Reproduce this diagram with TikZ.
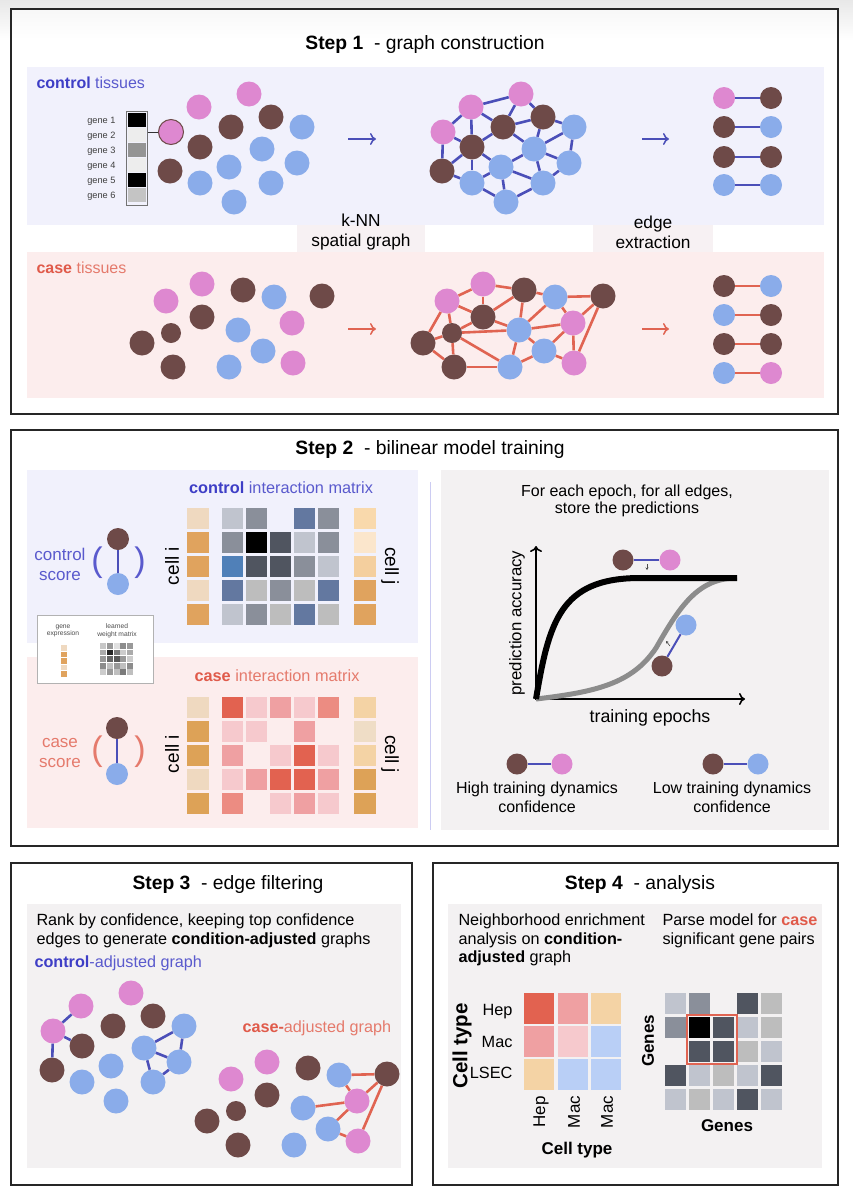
\documentclass[tikz,border=0pt]{standalone}
\usepackage{fontspec}
\setmainfont{Liberation Sans}
\usetikzlibrary{arrows.meta}
\definecolor{cbrown}{HTML}{6E4A48}
\definecolor{cpink}{HTML}{DE88D0}
\definecolor{cblue}{HTML}{8AACEA}
\definecolor{eblue}{HTML}{4B4FB8}
\definecolor{ered}{HTML}{E06452}
\definecolor{tblue}{HTML}{3E3EC6}
\definecolor{tblue2}{HTML}{5A5ACD}
\definecolor{tred}{HTML}{E05A4A}
\definecolor{tred2}{HTML}{E57A6C}
\definecolor{plav}{HTML}{F1F1FC}
\definecolor{ppink}{HTML}{FCEDED}
\definecolor{pgray}{HTML}{F3F1F2}
\definecolor{plabel}{HTML}{F7F1F3}
% matrix greys
\definecolor{g1}{HTML}{C0C4CE}
\definecolor{g2}{HTML}{8A8F9A}
\definecolor{g3}{HTML}{505560}
\definecolor{g4}{HTML}{6378A0}
\definecolor{g5}{HTML}{5080B8}
\definecolor{g6}{HTML}{BDBDBD}
% reds
\definecolor{r1}{HTML}{E26250}
\definecolor{r2}{HTML}{F6C9CD}
\definecolor{r3}{HTML}{EFA0A2}
\definecolor{r4}{HTML}{EC8C82}
% oranges
\definecolor{t1}{HTML}{EFD9C0}
\definecolor{o1}{HTML}{E0A35E}
\definecolor{o2}{HTML}{DDA257}
\definecolor{y1}{HTML}{F9D9AC}
\definecolor{y2}{HTML}{FBE6CC}
\definecolor{y3}{HTML}{F4CF9E}
\definecolor{y4}{HTML}{EFDDC6}
\definecolor{hb}{HTML}{B9CFF6}
\definecolor{hy}{HTML}{F4D3A5}

\newcommand{\ctrllayout}{%
  \node[cp] (a1) at (171,132) {};
  \node[cp] (a2) at (199,107) {};
  \node[cp] (a3) at (249,94) {};
  \node[cb] (a4) at (231,127) {};
  \node[cb] (a5) at (271,117) {};
  \node[cl] (a6) at (302,127) {};
  \node[cb] (a7) at (200,147) {};
  \node[cl] (a8) at (262,149) {};
  \node[cl] (a9) at (229,167) {};
  \node[cl] (a10) at (297,163) {};
  \node[cb] (a11) at (170,171) {};
  \node[cl] (a12) at (200,183) {};
  \node[cl] (a13) at (271,183) {};
  \node[cl] (a14) at (234,202) {};
}
\newcommand{\caselayout}{%
  \node[cp] (b1) at (166,301) {};
  \node[cp] (b2) at (202,284) {};
  \node[cb] (b3) at (243,290) {};
  \node[cl] (b4) at (274,297) {};
  \node[cb] (b5) at (322,296) {};
  \node[cb] (b6) at (202,317) {};
  \node[cp] (b7) at (292,323) {};
  \node[cbs] (b8) at (171,333) {};
  \node[cb] (b9) at (142,343) {};
  \node[cl] (b10) at (238,330) {};
  \node[cl] (b11) at (263,351) {};
  \node[cb] (b12) at (173,367) {};
  \node[cl] (b13) at (229,367) {};
  \node[cp] (b14) at (293,363) {};
}

\begin{document}
\begin{tikzpicture}[x=1pt,y=-1pt,
  base/.style={circle, inner sep=0pt, minimum size=25pt},
  cb/.style={base, fill=cbrown}, cp/.style={base, fill=cpink}, cl/.style={base, fill=cblue},
  cbs/.style={base, fill=cbrown, minimum size=20pt},
  pb/.style={cb, minimum size=22pt}, pp/.style={cp, minimum size=22pt}, pl/.style={cl, minimum size=22pt},
  eb/.style={draw=eblue, line width=2.6pt}, er/.style={draw=ered, line width=2.6pt},
  frame/.style={draw=black!85, line width=1.4pt},
  arr/.style={line width=1.5pt, -{To[length=6pt,width=12pt]}},
  ttl/.style={font=\fontsize{19.3}{22}\selectfont},
  lbl/.style={font=\fontsize{17.3}{20}\selectfont, align=center},
  txt/.style={font=\fontsize{16.2}{18.5}\selectfont},
  cell/.style={font=\fontsize{17}{20}\selectfont},
]
\useasboundingbox (0,0) rectangle (853,1200);
\fill[white] (0,0) rectangle (853,1200);
\shade[top color=black!9, bottom color=white] (0,0) rectangle (853,40);

%================ STEP 1 =================
\fill[white] (11,9) rectangle (838,414);
\shade[top color=black!3, bottom color=white] (11,9) rectangle (838,40);
\draw[frame] (11,9) rectangle (838,414);
\node[ttl] (t1) at (425,45) {\textbf{Step 1}\ \ - graph construction};
\fill[plav] (27,67) rectangle (824,225);
\fill[ppink] (27,252) rectangle (824,398);
\fill[plabel] (297,225) rectangle (425,252);
\fill[plabel] (593,225) rectangle (713,252);
\node[lbl] (knn) at (361,232) {k-NN\\spatial graph};
\node[lbl] (edx) at (653,232) {edge\\extraction};

\node[anchor=west, font=\fontsize{16}{18}\selectfont, text=tblue2] (ctl) at (33,83) {\textbf{\color{tblue}control} tissues};
\node[anchor=west, font=\fontsize{16}{18}\selectfont, text=tred2] (csl) at (33,268) {\textbf{\color{tred}case} tissues};

% gene column
\foreach \c/\i in {black/1,black!7/2,black!42/3,black!7/4,black/5,black!23/6}{
  \fill[\c] (128,{113+15*(\i-1)}) rectangle ++(18,14);
  \node[anchor=east, font=\fontsize{9.2}{10}\selectfont, text=black!75] at (119,{121+15*(\i-1)}) {gene \i};
}
\node[draw=black!55, line width=0.8pt, minimum width=21pt, minimum height=94pt, inner sep=0pt] (gbox) at (137,158) {};

% control tissue
\begin{scope}[name prefix=ct-]
\ctrllayout
\end{scope}
\draw[line width=1pt, cbrown] (ct-a1.center) circle[radius=12.5];
\draw[line width=0.9pt, black!80] (gbox.east |- ct-a1) -- (ct-a1);

% control graph
\begin{scope}[shift={(272,0)}, name prefix=cg-]
\ctrllayout
\foreach \u/\v in {a2/a3,a2/a1,a2/a7,a2/a4,a3/a4,a3/a5,a4/a5,a5/a6,a1/a7,a1/a11,a7/a4,a7/a9,a7/a11,a7/a12,a4/a8,a5/a8,a8/a6,a8/a9,a8/a10,a6/a10,a8/a13,a10/a13,a9/a12,a9/a14,a9/a13,a11/a12,a12/a14,a13/a14}
  \draw[eb] (\u) -- (\v);
\end{scope}

% case tissue
\begin{scope}[name prefix=cs-]
\caselayout
\end{scope}

% case graph
\begin{scope}[shift={(281,0)}, name prefix=cgr-]
\caselayout
\foreach \u/\v in {b1/b2,b1/b6,b1/b8,b1/b9,b2/b3,b2/b6,b6/b3,b6/b8,b6/b10,b3/b10,b3/b4,b4/b5,b4/b10,b4/b7,b5/b7,b5/b14,b8/b10,b8/b9,b8/b12,b8/b13,b9/b12,b12/b13,b10/b7,b10/b13,b10/b11,b7/b11,b7/b14,b11/b14,b11/b13}
  \draw[er] (\u) -- (\v);
\end{scope}

% arrows
\coordinate (A1s) at (348,139); \coordinate (A1e) at (376,139);
\coordinate (A2s) at (642,139); \coordinate (A2e) at (669,139);
\coordinate (A3s) at (348,329); \coordinate (A3e) at (376,329);
\coordinate (A4s) at (642,329); \coordinate (A4e) at (669,329);
\draw[arr, eblue] (A1s) -- (A1e);
\draw[arr, eblue] (A2s) -- (A2e);
\draw[arr, ered] (A3s) -- (A3e);
\draw[arr, ered] (A4s) -- (A4e);

% extracted edges
\foreach \r/\y/\sa/\sb in {1/98/pp/pb,2/127/pb/pl,3/157/pb/pb,4/185/pl/pl}{
  \node[\sa] (xl\r) at (724,\y) {};
  \node[\sb] (xr\r) at (771,\y) {};
  \draw[eb] (xl\r) -- (xr\r);
}
\foreach \r/\y/\sa/\sb in {1/286/pb/pl,2/315/pl/pb,3/344/pb/pb,4/373/pl/pp}{
  \node[\sa] (yl\r) at (724,\y) {};
  \node[\sb] (yr\r) at (771,\y) {};
  \draw[er] (yl\r) -- (yr\r);
}

%================ STEP 2 =================
\draw[frame] (11,430) rectangle (838,846);
\node[ttl] (t2) at (430,450) {\textbf{Step 2}\ \ - bilinear model training};
\fill[plav] (27,470) rectangle (418,643);
\fill[ppink] (27,657) rectangle (418,828);
\fill[pgray] (441,470) rectangle (829,830);
\draw[line width=0.8pt, black!25!blue!20] (430,482) -- (430,830);

\node[font=\fontsize{16.3}{18}\selectfont, text=tblue2] (cim) at (281,488) {\textbf{\color{tblue}control} interaction matrix};
\node[font=\fontsize{16.3}{18}\selectfont, text=tred2] (sim) at (277,676) {\textbf{\color{tred}case} interaction matrix};

% control matrix
\foreach \row [count=\r] in {{g1,g2,none,g4,g2},{g2,black,g3,g1,g2},{g5,g3,g3,g2,g1},{g4,g6,g2,g6,g4},{g1,g2,g6,g4,g6}}{
  \foreach \c [count=\k] in \row {
    \path[fill=\c] ({222+24*(\k-1)},{508+24*(\r-1)}) rectangle ++(21,21);
  }
}
\foreach \c [count=\r] in {t1,o1,o1,t1,o1} \path[fill=\c] (187,{508+24*(\r-1)}) rectangle ++(22,21);
\foreach \c [count=\r] in {y1,y2,y3,o1,o1} \path[fill=\c] (354,{508+24*(\r-1)}) rectangle ++(22,21);
% case matrix
\foreach \row [count=\r] in {{r1,r2,r3,r2,r4},{r2,r2,none,r3,none},{r3,none,r2,r1,r2},{r2,r3,r1,r1,r3},{r4,none,r2,r3,r2}}{
  \foreach \c [count=\k] in \row {
    \path[fill=\c] ({222+24*(\k-1)},{697+24*(\r-1)}) rectangle ++(21,21);
  }
}
\foreach \c [count=\r] in {t1,o2,o2,t1,o2} \path[fill=\c] (187,{697+24*(\r-1)}) rectangle ++(22,21);
\foreach \c [count=\r] in {hy,y4,hy,o2,o2} \path[fill=\c] (354,{697+24*(\r-1)}) rectangle ++(22,21);

\node[cell, font=\fontsize{19}{21}\selectfont, rotate=90] (ci1) at (172,566) {cell i};
\node[cell, font=\fontsize{19}{21}\selectfont, rotate=-90] (cj1) at (390,566) {cell j};
\node[cell, font=\fontsize{19}{21}\selectfont, rotate=90] (ci2) at (172,754) {cell i};
\node[cell, font=\fontsize{19}{21}\selectfont, rotate=-90] (cj2) at (390,754) {cell j};

% scores
\node[font=\fontsize{17}{20}\selectfont, text=tblue2, align=center] (cscore) at (60,564) {control\\score};
\node[font=\fontsize{34}{34}\selectfont, text=tblue2] (p1) at (97,563) {(};
\node[font=\fontsize{34}{34}\selectfont, text=tblue2] (p2) at (140,563) {)};
\node[pb] (s1a) at (118,539) {};
\node[pl] (s1b) at (118,584) {};
\draw[eb] (s1a) -- (s1b);
\node[font=\fontsize{17}{20}\selectfont, text=tred2, align=center] (sscore) at (60,753) {case\\score};
\node[font=\fontsize{34}{34}\selectfont, text=tred2] (p3) at (97,752) {(};
\node[font=\fontsize{34}{34}\selectfont, text=tred2] (p4) at (140,752) {)};
\node[pb] (s2a) at (117,728) {};
\node[pl] (s2b) at (117,774) {};
\draw[eb] (s2a) -- (s2b);

% legend box
\node[draw=black!30, fill=white, line width=0.8pt, minimum width=116pt, minimum height=68pt, inner sep=0pt] (legend) at (95,649) {};
\node[font=\fontsize{6.7}{7.5}\selectfont, align=center, text=black!70] (lg1) at (63,631) {gene\\expression};
\node[font=\fontsize{6.7}{7.5}\selectfont, align=center, text=black!70] (lg2) at (117,631) {learned\\weight matrix};
\foreach \c [count=\r] in {t1,o1,o1,t1,o1} \path[fill=\c] (61,{645+6.5*(\r-1)}) rectangle ++(6,5.5);
\foreach \row [count=\r] in {{black!22,black!40,black!12,black!45,black!40},{black!33,black!85,black!52,black!20,black!33},{black!40,black!60,black!65,black!40,black!20},{black!45,black!25,black!40,black!25,black!45},{black!20,black!40,black!25,black!52,black!25}}{
  \foreach \c [count=\k] in \row {
    \path[fill=\c] ({100+6.8*(\k-1)},{643+6.6*(\r-1)}) rectangle ++(6,5.8);
  }
}

% right panel
\node[font=\fontsize{16}{17.5}\selectfont, align=center] (fe) at (627,501) {For each epoch, for all edges,\\store the predictions};
\coordinate (O) at (536,699);
\coordinate (Yt) at (536,546);
\coordinate (Xe) at (745,699);
\draw[line width=1.6pt, {To[length=6pt,width=12pt]}-{To[length=6pt,width=12pt]}] (Yt) -- (O) -- (Xe);
\node[font=\fontsize{16.8}{20}\selectfont, rotate=90] (pa) at (517,623) {prediction accuracy};
\node[font=\fontsize{17.8}{20}\selectfont] (te) at (650,718) {training epochs};
\draw[line width=5pt, black!45] (O) .. controls (595,692) and (632,684) .. (656,648) .. controls (680,606) and (698,578) .. (737,578);
\draw[line width=6pt, black] (O) .. controls (549,622) and (560,578) .. (640,578) -- (737,578);

\node[pb, minimum size=21pt] (h1) at (623,560) {};
\node[pp, minimum size=21pt] (h2) at (670,560) {};
\draw[draw=eblue, line width=2pt] (h1) -- (h2);
\node[pl, minimum size=21pt] (l1) at (686,625) {};
\node[pb, minimum size=21pt] (l2) at (662,666) {};
\draw[draw=eblue, line width=2pt] (l1) -- (l2);
\coordinate (m1a) at (647,564); \coordinate (m1b) at (647,570);
\draw[line width=0.6pt, black!70, -{Stealth[length=2.5pt,width=3pt]}] (m1a) -- (m1b);
\coordinate (m2a) at (670,646); \coordinate (m2b) at (666,641);
\draw[line width=0.6pt, black!70, -{Stealth[length=2.5pt,width=3pt]}] (m2a) -- (m2b);

\node[pb, minimum size=21pt] (k1) at (517,764) {};
\node[pp, minimum size=21pt] (k2) at (562,764) {};
\draw[draw=eblue, line width=2pt] (k1) -- (k2);
\node[pb, minimum size=21pt] (k3) at (713,764) {};
\node[pl, minimum size=21pt] (k4) at (758,764) {};
\draw[draw=eblue, line width=2pt] (k3) -- (k4);
\node[font=\fontsize{16}{19}\selectfont, align=center] (hi) at (537,797) {High training dynamics\\confidence};
\node[font=\fontsize{16}{19}\selectfont, align=center] (lo) at (732,797) {Low training dynamics\\confidence};

%================ STEP 3 =================
\draw[frame] (11,863) rectangle (412,1185);
\node[ttl] (t3) at (228,884) {\textbf{Step 3}\ \ - edge filtering};
\fill[pgray] (27,904) rectangle (401,1168);
\node[txt, anchor=west, align=left] (rk) at (33,931) {Rank by confidence, keeping top confidence\\edges to generate \textbf{condition-adjusted} graphs};
\node[txt, anchor=west, text=tblue2] (cag) at (31,963) {\textbf{\color{tblue}control}-adjusted graph};
\node[txt, anchor=west, text=tred2] (sag) at (239,1028) {\textbf{\color{tred}case-}adjusted graph};

\begin{scope}[shift={(-118,899)}, name prefix=fa-]
\ctrllayout
\foreach \u/\v in {a2/a1,a1/a7,a1/a11,a6/a8,a6/a10,a8/a10,a8/a13,a10/a13}
  \draw[eb] (\u) -- (\v);
\end{scope}
\begin{scope}[shift={(65,778)}, name prefix=fb-]
\caselayout
\foreach \u/\v in {b4/b5,b4/b7,b5/b7,b5/b14,b10/b7,b11/b7,b11/b14}
  \draw[er] (\u) -- (\v);
\end{scope}

%================ STEP 4 =================
\draw[frame] (433,863) rectangle (838,1185);
\node[ttl] (t4) at (640,884) {\textbf{Step 4}\ \ - analysis};
\fill[pgray] (448,904) rectangle (822,1168);
\node[txt, anchor=west, align=left] (ne) at (455,940) {Neighborhood enrichment\\analysis on \textbf{condition-}\\\textbf{adjusted} graph};
\node[txt, anchor=west, align=left] (pm) at (659,931) {Parse model for \textbf{\color{tred}case}\\significant gene pairs};

\foreach \row [count=\r] in {{r1,r3,hy},{r3,r2,hb},{hy,hb,hb}}{
  \foreach \c [count=\k] in \row {
    \path[fill=\c] ({524+33.5*(\k-1)},{993+33*(\r-1)}) rectangle ++(30,31);
  }
}
\node[cell, font=\fontsize{16.3}{20}\selectfont, anchor=east] (rh) at (516,1012) {Hep};
\node[cell, font=\fontsize{16.3}{20}\selectfont, anchor=east] (rm) at (516,1042) {Mac};
\node[cell, font=\fontsize{16.3}{20}\selectfont, anchor=east] (rl) at (516,1073) {LSEC};
\node[cell, rotate=90] (ch) at (541,1112) {Hep};
\node[cell, rotate=90] (cm1) at (574,1112) {Mac};
\node[cell, rotate=90] (cm2) at (607,1112) {Mac};
\node[cell, font=\fontsize{20.5}{22}\selectfont, rotate=90] (ctv) at (462,1046) {\textbf{Cell type}};
\node[cell] (cth) at (577,1150) {\textbf{Cell type}};

\foreach \row [count=\r] in {{g1,g2,none,g3,g6},{g2,black,g3,g1,g6},{none,g3,g3,g6,g1},{g3,g1,g6,g1,g3},{g1,g6,g1,g3,g1}}{
  \foreach \c [count=\k] in \row {
    \path[fill=\c] ({665+24*(\k-1)},{993+24*(\r-1)}) rectangle ++(21,21);
  }
}
\draw[draw=ered, line width=2pt] (687,1015) rectangle (737,1064);
\node[cell, rotate=90] (gv) at (648,1041) {\textbf{Genes}};
\node[cell] (gh) at (727,1126) {\textbf{Genes}};
\end{tikzpicture}
\end{document}
